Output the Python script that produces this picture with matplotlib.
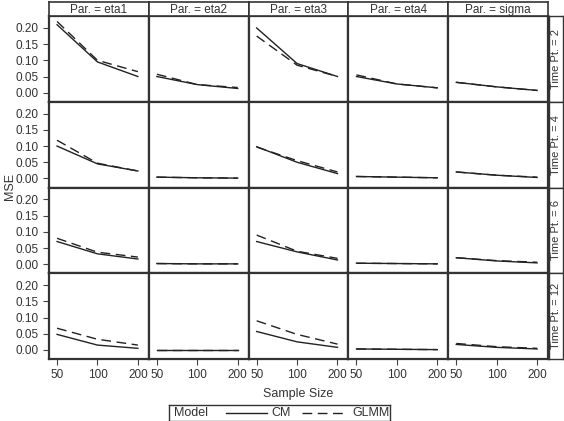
import numpy as np
import matplotlib.pyplot as plt

plt.rcParams['font.family'] = ['Liberation Sans', 'DejaVu Sans']

sizes = ["50", "100", "200"]
params = ["eta1", "eta2", "eta3", "eta4", "sigma"]
timepts = ["2", "4", "6", "12"]
models = ["CM", "GLMM"]

# MSE values [time point][parameter] -> 3 sample sizes
cm = {
    "2":  {"eta1": [0.210, 0.095, 0.050], "eta2": [0.050, 0.025, 0.013], "eta3": [0.200, 0.090, 0.050],
           "eta4": [0.050, 0.027, 0.015], "sigma": [0.032, 0.018, 0.007]},
    "4":  {"eta1": [0.100, 0.045, 0.023], "eta2": [0.004, 0.002, 0.001], "eta3": [0.098, 0.050, 0.015],
           "eta4": [0.006, 0.004, 0.002], "sigma": [0.020, 0.010, 0.003]},
    "6":  {"eta1": [0.070, 0.032, 0.016], "eta2": [0.002, 0.001, 0.001], "eta3": [0.070, 0.038, 0.013],
           "eta4": [0.003, 0.002, 0.001], "sigma": [0.020, 0.010, 0.004]},
    "12": {"eta1": [0.048, 0.015, 0.005], "eta2": [0.001, 0.001, 0.001], "eta3": [0.057, 0.025, 0.008],
           "eta4": [0.003, 0.002, 0.001], "sigma": [0.017, 0.008, 0.003]},
}
glmm = {
    "2":  {"eta1": [0.220, 0.100, 0.065], "eta2": [0.057, 0.025, 0.016], "eta3": [0.175, 0.085, 0.050],
           "eta4": [0.055, 0.027, 0.015], "sigma": [0.032, 0.018, 0.007]},
    "4":  {"eta1": [0.118, 0.047, 0.023], "eta2": [0.004, 0.002, 0.001], "eta3": [0.097, 0.055, 0.020],
           "eta4": [0.006, 0.004, 0.002], "sigma": [0.020, 0.010, 0.004]},
    "6":  {"eta1": [0.080, 0.037, 0.022], "eta2": [0.002, 0.001, 0.001], "eta3": [0.090, 0.040, 0.018],
           "eta4": [0.003, 0.002, 0.001], "sigma": [0.020, 0.011, 0.006]},
    "12": {"eta1": [0.067, 0.033, 0.015], "eta2": [0.001, 0.001, 0.001], "eta3": [0.090, 0.048, 0.018],
           "eta4": [0.003, 0.002, 0.001], "sigma": [0.020, 0.010, 0.005]},
}

W, H = 564, 421
fig = plt.figure(figsize=(W / 100, H / 100), dpi=100)

left, right, top, bottom = 49, 548, 16, 359
cw = (right - left) / len(params)
rh = (bottom - top) / len(timepts)
edge = "#333333"
ink = "#222222"
fs = 8.5
dash = (0, (7, 4))

def fax(x0, y0, w, h):
    return fig.add_axes([x0 / W, 1 - (y0 + h) / H, w / W, h / H])

x = np.arange(len(sizes))
for i, t in enumerate(timepts):
    for j, p in enumerate(params):
        ax = fax(left + j * cw, top + i * rh, cw, rh)
        ax.plot(x, cm[t][p], color=ink, lw=1.0, ls="-")
        ax.plot(x, glmm[t][p], color=ink, lw=1.0, ls=dash)
        ax.set_xlim(-0.2, 2.27)
        ax.set_ylim(-0.028, 0.237)
        ax.set_xticks(x)
        ax.set_yticks([0, 0.05, 0.10, 0.15, 0.20])
        for s in ax.spines.values():
            s.set_color(edge)
            s.set_linewidth(1.6)
        ax.tick_params(colors="#444444", labelcolor="#333333", labelsize=fs, length=4, width=0.8)
        if j == 0:
            ax.set_yticklabels(["0.00", "0.05", "0.10", "0.15", "0.20"])
        else:
            ax.tick_params(axis="y", left=False, labelleft=False)
        if i == len(timepts) - 1:
            ax.set_xticklabels(sizes)
        else:
            ax.tick_params(axis="x", bottom=False, labelbottom=False)

    # right strip
    sx = fax(right + 1, top + i * rh, 13.5, rh)
    sx.set_xticks([]); sx.set_yticks([])
    for s in sx.spines.values():
        s.set_color(edge); s.set_linewidth(1.0)
    sx.text(0.55, 0.5, "Time Pt. = " + t, rotation=90, ha="center", va="center",
            fontsize=8, color="#333333", transform=sx.transAxes)

for j, p in enumerate(params):
    sx = fax(left + j * cw, 2, cw, top - 2)
    sx.set_xticks([]); sx.set_yticks([])
    for s in sx.spines.values():
        s.set_color(edge); s.set_linewidth(1.2)
    sx.text(0.5, 0.45, "Par. = " + p, ha="center", va="center", fontsize=fs,
            color="#333333", transform=sx.transAxes)

fig.text(10 / W, 1 - 187 / H, "MSE", rotation=90, ha="center", va="center", fontsize=9, color="#333333")
fig.text((left + right) / 2 / W, 1 - 394 / H, "Sample Size", ha="center", va="center", fontsize=9, color="#333333")

# legend box drawn by hand in pixel coordinates
lg = fax(169, 405, 221, 16)
lg.set_xlim(169, 390)
lg.set_ylim(16, 0)
lg.set_xticks([]); lg.set_yticks([])
for s in lg.spines.values():
    s.set_color(edge); s.set_linewidth(1.0)
lg.text(174, 8, "Model", ha="left", va="center", fontsize=9, color="#333333")
lg.plot([226, 267], [8, 8], color=ink, lw=1.0, ls="-")
lg.text(271, 8, models[0], ha="left", va="center", fontsize=9, color="#333333")
lg.plot([302, 344], [8, 8], color=ink, lw=1.0, ls=dash)
lg.text(352, 8, models[1], ha="left", va="center", fontsize=9, color="#333333")

fig.savefig("out.png", dpi=100)
